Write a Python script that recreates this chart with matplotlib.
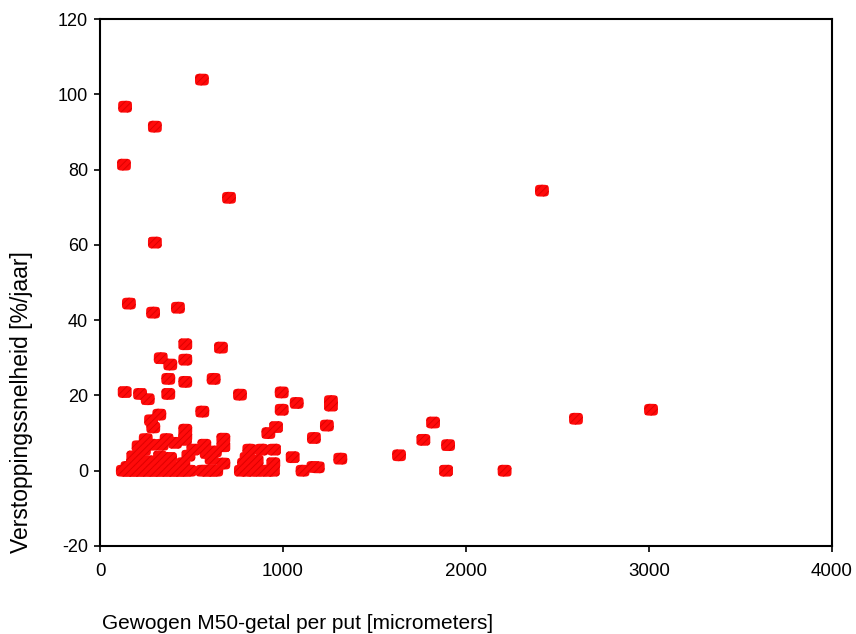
import numpy as np
import matplotlib
matplotlib.use('Agg')
import matplotlib.pyplot as plt
from matplotlib import font_manager
from matplotlib.path import Path
from matplotlib.markers import MarkerStyle
from matplotlib.transforms import Affine2D

plt.rcParams['font.family'] = ['Liberation Sans', 'DejaVu Sans']
plt.rcParams['hatch.linewidth'] = 0.6
plt.rcParams['axes.unicode_minus'] = False

# weighted M50 per put [um] vs clogging rate [%/yr]
m50_high = [131, 137, 300, 557, 300, 705, 2415,
            158, 290, 426, 466, 661, 332, 384, 466,
            373, 466, 621, 135, 219, 261, 373, 765, 993, 1075, 993,
            559, 324, 279, 291, 466, 466, 962, 920, 1169, 674, 250, 364,
            211, 282, 337, 410, 464, 674, 570, 510, 816, 883, 951, 628,
            1262, 1262, 1240, 1820, 1767, 1902, 2601, 3011]
rate_high = [81.3, 96.7, 91.4, 103.9, 60.6, 72.5, 74.4,
             44.4, 42.0, 43.3, 33.6, 32.7, 29.9, 28.2, 29.5,
             24.4, 23.6, 24.4, 20.9, 20.4, 19.0, 20.4, 20.2, 20.8, 18.0, 16.2,
             15.7, 14.9, 13.4, 11.5, 10.9, 9.1, 11.6, 10.0, 8.7, 8.5, 8.4, 8.4,
             6.5, 6.9, 6.9, 7.4, 8.2, 6.5, 6.9, 5.6, 5.6, 5.6, 5.6, 5.1,
             18.5, 17.3, 12.0, 12.8, 8.2, 6.8, 13.8, 16.2]

m50_low = [483, 583, 182, 209, 328, 383, 610, 1053, 801, 856, 947, 674, 787,
           455, 355, 180, 1166, 1634, 1313, 1190, 150, 230, 270, 400, 240, 305]
rate_low = [4.0, 4.7, 3.8, 3.8, 3.8, 3.4, 3.1, 3.6, 3.4, 2.7, 2.0, 1.9, 1.9,
            2.0, 1.6, 2.0, 1.0, 4.1, 3.2, 0.9, 1.0, 1.5, 2.5, 0.8, 5.5, 1.2]

m50_zero = [125, 145, 165, 185, 205, 225, 245, 265, 285, 305, 325, 345, 365,
            385, 405, 425, 445, 465, 490, 560, 585, 610, 635,
            770, 800, 830, 860, 890, 920, 945, 1107, 1891, 2211]
rate_zero = [0.0] * len(m50_zero)

m50 = m50_high + m50_low + m50_zero
rate = rate_high + rate_low + rate_zero

# rounded-square marker, a bit wider than tall
t = np.linspace(0, 2 * np.pi, 60)
c, s = np.cos(t), np.sin(t)
verts = np.column_stack([np.sign(c) * np.abs(c) ** 0.5, np.sign(s) * np.abs(s) ** 0.5])
blob = MarkerStyle(Path(verts, closed=True), transform=Affine2D().scale(1.0, 0.85))

# narrow face for the x tick labels, if it is there
names = {f.name for f in font_manager.fontManager.ttflist}
narrow = 'Liberation Sans Narrow' if 'Liberation Sans Narrow' in names else 'Liberation Sans'

fig = plt.figure(figsize=(8.56, 6.34), dpi=100)
ax = fig.add_axes([100 / 856, 1 - 546 / 634, 732 / 856, 527 / 634])

ax.scatter(m50, rate, marker=blob, s=100, facecolor='#ff0a0a', edgecolor='#d80000',
           linewidths=0, hatch='/////', zorder=3)

ax.set_xlim(0, 4000)
ax.set_ylim(-20, 120)
ax.set_xticks([0, 1000, 2000, 3000, 4000])
ax.set_yticks(range(-20, 121, 20))
for sp in ax.spines.values():
    sp.set_linewidth(1.5)
ax.tick_params(direction='out', length=4, width=1.2, labelsize=13)
ax.tick_params(axis='y', pad=4.5)
ax.tick_params(axis='x', pad=8)
for lbl in ax.get_xticklabels():
    lbl.set_family(narrow)
    lbl.set_fontsize(13.5)

fig.text(22 / 856, 1 - 553 / 634, 'Verstoppingssnelheid [%/jaar]', fontsize=16.5,
         rotation=90, ha='center', va='bottom')
fig.text(102 / 856, 1 - 629 / 634, 'Gewogen M50-getal per put [micrometers]',
         fontsize=15, ha='left', va='baseline')

fig.savefig('out.png', dpi=100)
